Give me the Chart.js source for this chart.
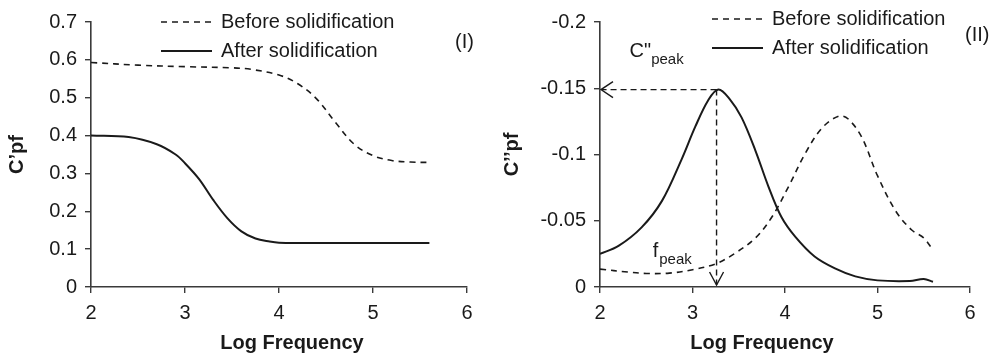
<!DOCTYPE html>
<html>
<head>
<meta charset="utf-8">
<script src="https://cdn.jsdelivr.net/npm/chart.js@4/dist/chart.umd.min.js"></script>
<style>
  body { margin: 0; background: #fff; }
  .wrap { display: flex; width: 990px; height: 356px; }
  canvas { display: block; }
</style>
</head>
<body>
<div class="wrap">
  <canvas id="chartReal" width="495" height="356"></canvas>
  <canvas id="chartImag" width="495" height="356"></canvas>
</div>
<script>
// panel (I): C'pf
const realBeforeX = [2, 2.5, 3, 3.5, 3.7, 4, 4.2, 4.4, 4.6, 4.8, 5, 5.2, 5.4, 5.6];
const realBeforeY = [0.593, 0.586, 0.582, 0.579, 0.575, 0.560, 0.537, 0.497, 0.435, 0.377, 0.347, 0.334, 0.330, 0.329];
const realAfterX = [2, 2.4, 2.7, 2.9, 3.0, 3.15, 3.3, 3.45, 3.6, 3.75, 3.9, 4.0, 4.5, 5, 5.6];
const realAfterY = [0.400, 0.396, 0.377, 0.350, 0.327, 0.285, 0.230, 0.182, 0.147, 0.128, 0.120, 0.117, 0.116, 0.116, 0.116];

// panel (II): C''pf
const imagBeforeX = [2, 2.3, 2.5, 2.75, 3.0, 3.25, 3.45, 3.68, 3.86, 4.04, 4.22, 4.4, 4.58, 4.68, 4.83, 5.0, 5.2, 5.37, 5.5, 5.6];
const imagBeforeY = [-0.0135, -0.0113, -0.0102, -0.0105, -0.013, -0.0175, -0.025, -0.037, -0.053, -0.076, -0.101, -0.12, -0.129, -0.127, -0.113, -0.084, -0.057, -0.043, -0.037, -0.028];
const imagAfterX = [2, 2.2, 2.45, 2.67, 2.88, 3.03, 3.17, 3.28, 3.4, 3.53, 3.68, 3.82, 3.96, 4.11, 4.32, 4.54, 4.76, 5.0, 5.35, 5.5, 5.6];
const imagAfterY = [-0.025, -0.031, -0.045, -0.065, -0.096, -0.121, -0.141, -0.149, -0.142, -0.128, -0.103, -0.076, -0.053, -0.038, -0.023, -0.014, -0.008, -0.005, -0.0045, -0.006, -0.004];

const peakX = 3.26;
const peakY = -0.149;

const seriesLabels = ['Before solidification', 'After solidification'];
const xTitle = 'Log Frequency';

const FONT = "'Liberation Sans', Arial, sans-serif";
const INK = '#1a1a1a';
const AXIS = '#3a3a3a';

const toPoints = (xs, ys) => xs.map((x, i) => ({ x: x, y: ys[i] }));
const tidy = (v) => String(parseFloat(Number(v).toFixed(3)));

// legend, panel tag, axis titles and (optionally) peak arrows
const decorPlugin = {
  id: 'decor',
  afterDraw(chart, args, opts) {
    const ctx = chart.ctx;
    const area = chart.chartArea;
    ctx.save();
    ctx.fillStyle = INK;
    ctx.strokeStyle = INK;

    // legend
    const lg = opts.legend;
    [0, 1].forEach((i) => {
      const y = area.top + lg.dy + i * 29;
      ctx.lineWidth = i === 0 ? 1.6 : 2;
      ctx.setLineDash(i === 0 ? [6, 5] : []);
      ctx.beginPath();
      ctx.moveTo(area.left + lg.dx, y);
      ctx.lineTo(area.left + lg.dx + 51, y);
      ctx.stroke();
      ctx.setLineDash([]);
      ctx.font = '20px ' + FONT;
      ctx.textAlign = 'left';
      ctx.textBaseline = 'middle';
      ctx.fillText(seriesLabels[i], area.left + lg.dx + 60, y);
    });

    // panel tag
    ctx.font = '20px ' + FONT;
    ctx.textAlign = 'left';
    ctx.fillText(opts.tag.text, opts.tag.x, opts.tag.y);

    // x title
    ctx.font = 'bold 20px ' + FONT;
    ctx.textAlign = 'center';
    ctx.fillText(xTitle, opts.xTitleX, 343);

    // y title
    ctx.save();
    ctx.translate(17, (area.top + area.bottom) / 2);
    ctx.rotate(-Math.PI / 2);
    ctx.fillText(opts.yTitle, 0, 0);
    ctx.restore();

    if (opts.peak) {
      const xs = chart.scales.x;
      const ys = chart.scales.y;
      const px = xs.getPixelForValue(peakX);
      const py = ys.getPixelForValue(peakY);
      const y0 = ys.getPixelForValue(0);
      ctx.lineWidth = 1.4;
      ctx.setLineDash([6, 4]);
      ctx.beginPath();
      ctx.moveTo(px, py);
      ctx.lineTo(area.left + 2, py);
      ctx.moveTo(px, py);
      ctx.lineTo(px, y0 - 2);
      ctx.stroke();
      ctx.setLineDash([]);
      ctx.beginPath();
      ctx.moveTo(area.left + 13, py - 8);
      ctx.lineTo(area.left + 1, py);
      ctx.lineTo(area.left + 13, py + 8);
      ctx.moveTo(px - 7, y0 - 15);
      ctx.lineTo(px, y0 - 2);
      ctx.lineTo(px + 7, y0 - 15);
      ctx.stroke();

      // labels
      const cx = xs.getPixelForValue(2.32);
      const cy = ys.getPixelForValue(-0.178);
      ctx.font = '20px ' + FONT;
      ctx.textAlign = 'left';
      ctx.textBaseline = 'middle';
      ctx.fillText('C"', cx, cy);
      let w = ctx.measureText('C"').width;
      ctx.font = '15px ' + FONT;
      ctx.fillText('peak', cx + w, cy + 9);

      const fx = xs.getPixelForValue(2.57);
      const fy = ys.getPixelForValue(-0.0265);
      ctx.font = '20px ' + FONT;
      ctx.fillText('f', fx, fy);
      w = ctx.measureText('f').width;
      ctx.font = '15px ' + FONT;
      ctx.fillText('peak', fx + w + 1, fy + 8);
    }
    ctx.restore();
  },
};

function makeChart(id, before, after, yOpts, decor, leftWidth, rightPad) {
  const config = {
    type: 'scatter',
    data: {
      datasets: [
        {
          label: seriesLabels[0],
          data: before,
          showLine: true,
          borderColor: INK,
          borderWidth: 1.6,
          borderDash: [6, 5],
          pointRadius: 0,
          tension: 0.35,
        },
        {
          label: seriesLabels[1],
          data: after,
          showLine: true,
          borderColor: INK,
          borderWidth: 2,
          pointRadius: 0,
          tension: 0.35,
        },
      ],
    },
    options: {
      responsive: false,
      animation: false,
      layout: { padding: { top: 22, right: rightPad, left: 0, bottom: 0 } },
      plugins: {
        legend: { display: false },
        tooltip: { enabled: false },
        decor: decor,
      },
      scales: {
        x: {
          type: 'linear',
          min: 2,
          max: 6,
          ticks: { stepSize: 1, color: INK, font: { family: FONT, size: 20 }, padding: 8 },
          grid: { drawOnChartArea: false, tickLength: 6, color: AXIS, lineWidth: 1.4 },
          border: { color: AXIS, width: 1.6 },
          afterFit: (scale) => { scale.height = 69; },
        },
        y: Object.assign({
          grid: { drawOnChartArea: false, tickLength: 6, color: AXIS, lineWidth: 1.4 },
          border: { color: AXIS, width: 1.6 },
          afterFit: (scale) => { scale.width = leftWidth; },
        }, yOpts),
      },
    },
    plugins: [decorPlugin],
  };
  return new Chart(document.getElementById(id), config);
}

makeChart(
  'chartReal',
  toPoints(realBeforeX, realBeforeY),
  toPoints(realAfterX, realAfterY),
  { min: 0, max: 0.7, ticks: { stepSize: 0.1, color: INK, font: { family: FONT, size: 20 }, padding: 8, callback: tidy } },
  { legend: { dx: 70, dy: 0 }, tag: { text: '(I)', x: 455, y: 42 }, xTitleX: 292, yTitle: 'C’pf', peak: false },
  91, 28
);

makeChart(
  'chartImag',
  toPoints(imagBeforeX, imagBeforeY),
  toPoints(imagAfterX, imagAfterY),
  { min: -0.2, max: 0, reverse: true, ticks: { stepSize: 0.05, color: INK, font: { family: FONT, size: 20 }, padding: 8, callback: tidy } },
  { legend: { dx: 112, dy: -3 }, tag: { text: '(II)', x: 470, y: 35 }, xTitleX: 267, yTitle: 'C’’pf', peak: true },
  105, 20
);
</script>
</body>
</html>
